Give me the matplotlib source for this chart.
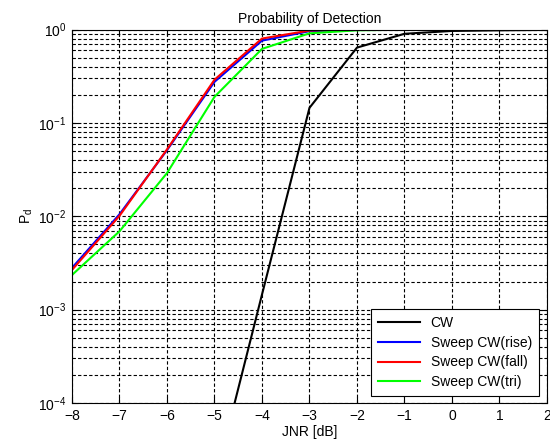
import numpy as np
import matplotlib
matplotlib.use('Agg')
import matplotlib.pyplot as plt
from matplotlib.ticker import LogLocator, FixedLocator, NullFormatter

plt.rcParams['font.family'] = ['Liberation Sans', 'DejaVu Sans']
plt.rcParams['mathtext.fontset'] = 'custom'
plt.rcParams['mathtext.rm'] = 'Liberation Sans'
plt.rcParams['mathtext.it'] = 'Liberation Sans'
plt.rcParams['mathtext.default'] = 'regular'

# JNR values [dB]
jnr = [-8, -7, -6, -5, -4, -3, -2, -1, 0, 1, 2]

# detection probability
pd_cw = [1e-9, 1e-8, 1e-7, 1.4e-5, 1.45e-3, 0.145, 0.64, 0.90, 0.965, 0.98, 0.99]
pd_rise = [2.8e-3, 0.0105, 0.051, 0.275, 0.76, 0.96, 0.99, 0.998, 1.0, 1.0, 1.0]
pd_fall = [2.66e-3, 0.0101, 0.052, 0.29, 0.80, 0.975, 0.995, 0.999, 1.0, 1.0, 1.0]
pd_tri = [2.35e-3, 6.9e-3, 0.029, 0.19, 0.62, 0.91, 0.98, 0.995, 1.0, 1.0, 1.0]

labels = ['CW', 'Sweep CW(rise)', 'Sweep CW(fall)', 'Sweep CW(tri)']
colors = ['k', '#0000ff', '#ff0000', '#00ff00']
fs = 10

fig = plt.figure(figsize=(5.5, 4.43), dpi=100)
ax = fig.add_axes([0.1309, 0.0903, 0.8636, 0.8431])

for y, lab, c in zip([pd_cw, pd_rise, pd_fall, pd_tri], labels, colors):
    ax.semilogy(jnr, y, color=c, lw=1.5, label=lab)

ax.set_xlim(-8, 2)
ax.set_ylim(1e-4, 1)
ax.xaxis.set_major_locator(FixedLocator(jnr))
ax.yaxis.set_major_locator(FixedLocator([1e-4, 1e-3, 1e-2, 1e-1, 1]))
ax.set_yticklabels([r'$10^{-4}$', r'$10^{-3}$', r'$10^{-2}$', r'$10^{-1}$', r'$10^{0}$'])
ax.yaxis.set_minor_locator(LogLocator(base=10, subs=np.arange(2, 10)))
ax.yaxis.set_minor_formatter(NullFormatter())

dash = (0, (3, 2))
ax.grid(True, which='major', color='k', linestyle=dash, lw=0.8)
ax.grid(True, which='minor', axis='y', color='k', linestyle=dash, lw=0.8)

ax.tick_params(which='both', direction='in', top=True, right=True, labelsize=fs)
ax.tick_params(which='major', length=4, pad=4)
ax.tick_params(which='minor', length=2)
for s in ax.spines.values():
    s.set_linewidth(0.8)

ax.set_title('Probability of Detection', fontsize=fs, pad=5)
ax.set_xlabel('JNR [dB]', fontsize=fs, labelpad=2)
ax.set_ylabel(r'P$_d$', fontsize=fs, labelpad=2)

leg = ax.legend(loc='lower right', bbox_to_anchor=(0.983, 0.019), fontsize=fs,
                fancybox=False, framealpha=1, edgecolor='k', borderaxespad=0,
                handlelength=3.0, labelspacing=0.4, borderpad=0.5)
leg.get_frame().set_linewidth(0.8)

fig.savefig('out.png', dpi=100)
